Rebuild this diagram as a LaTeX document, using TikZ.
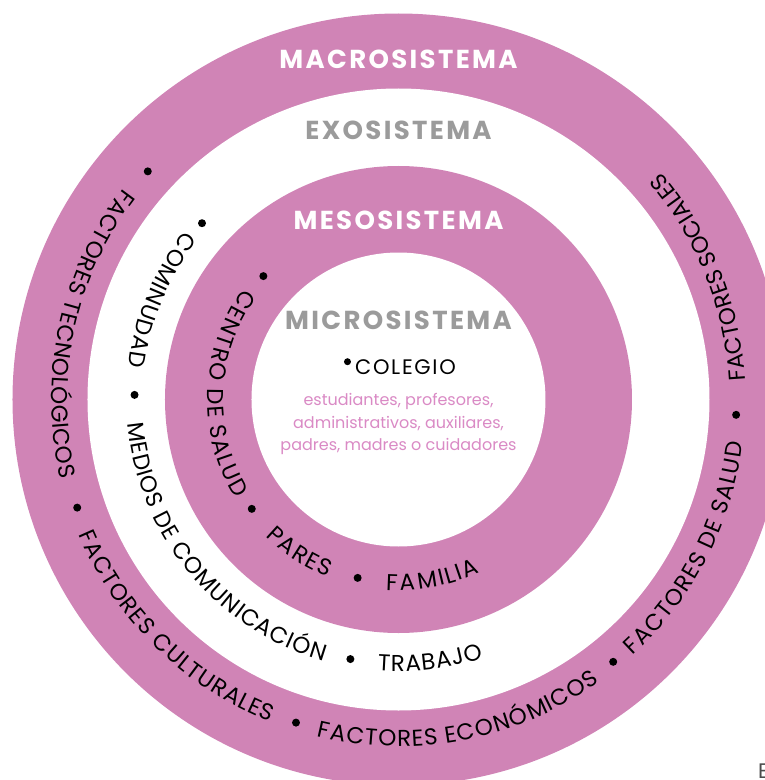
\documentclass[tikz,border=0pt]{standalone}
\usepackage{fontspec}
\setmainfont{Poppins}
\usetikzlibrary{positioning, decorations.text}
\definecolor{ringpink}{RGB}{208,132,182}
\definecolor{titlegray}{RGB}{155,155,155}
\definecolor{memberpink}{RGB}{218,138,197}
\providecommand{\sistemafont}{\fontsize{26}{28}\selectfont\bfseries\addfontfeatures{LetterSpace=9}}
\providecommand{\ringfont}{\fontsize{23}{25}\selectfont}
\providecommand{\colegiofont}{\fontsize{21}{23}\selectfont\addfontfeatures{LetterSpace=8}}
\providecommand{\memberfont}{\fontsize{16}{18}\selectfont}

\begin{document}
\begin{tikzpicture}[x=1pt, y=1pt, node distance=4pt,
    ring/.style={fill=ringpink},
    hole/.style={fill=white},
    dot/.style={circle, fill=black, inner sep=0pt, minimum size=8pt},
    sistema/.style={font=\sistemafont, anchor=base},
    member/.style={font=\memberfont, text=memberpink, anchor=base},
    ring text/.style={decorate, decoration={text effects along path, text={#1},
        text effects/.cd, text along path, fit text to path,
        character widths={font=\ringfont}, characters={font=\ringfont, text=black}}}]
    \useasboundingbox (-398.5,-380.5) rectangle (366.5,399.5);
    \clip (-398.5,-380.5) rectangle (366.5,399.5);
    \coordinate (centre) at (0,0);

    % the four circles
    \fill[ring] (centre) circle[radius=386];
    \fill[hole] (centre) circle[radius=311];
    \fill[ring] (centre) circle[radius=233.5];
    \fill[hole] (centre) circle[radius=147];

    \node[sistema, text=white] (macro title) at (0,330.5) {MACROSISTEMA};
    \node[sistema, text=titlegray] (exo title) at (0,259.5) {EXOSISTEMA};
    \node[sistema, text=white] (meso title) at (0,170.5) {MESOSISTEMA};
    \node[sistema, text=titlegray] (micro title) at (0,70) {MICROSISTEMA};

    \node[anchor=base, font=\colegiofont] (colegio) at (7,25.5) {COLEGIO};
    \node[dot, minimum size=7pt] (colegio dot) at (-51,37.8) {};
    \node[member] (members 1) at (0,-5.5) {estudiantes, profesores,};
    \node[member] (members 2) at (0,-28.8) {administrativos, auxiliares,};
    \node[member] (members 3) at (0,-51.2) {padres, madres o cuidadores};

    % macrosistema
    \node[dot] (macro dot 1) at (137.7:339) {};
    \node[dot] (macro dot 2) at (198.6:339) {};
    \node[dot] (macro dot 3) at (252.4:339) {};
    \node[dot] (macro dot 4) at (309.3:339) {};
    \node[dot] (macro dot 5) at (357.4:338) {};
    \path[ring text=FACTORES TECNOLÓGICOS] (142.5:347) arc[start angle=142.5, end angle=193.3, radius=347];
    \path[ring text=FACTORES CULTURALES] (202.9:347) arc[start angle=202.9, end angle=248.3, radius=347];
    \path[ring text=FACTORES ECONÓMICOS] (256.4:347) arc[start angle=256.4, end angle=305.5, radius=347];
    \path[ring text=FACTORES DE SALUD] (312.5:347) arc[start angle=312.5, end angle=352.9, radius=347];
    \path[ring text=FACTORES SOCIALES] (3.1:347) arc[start angle=3.1, end angle=41, radius=347];

    % exosistema
    \node[dot] (exo dot 1) at (138.1:264) {};
    \node[dot] (exo dot 2) at (179:264) {};
    \node[dot] (exo dot 3) at (259.5:264) {};
    \path[ring text=COMINUDAD] (141.7:272) arc[start angle=141.7, end angle=173.1, radius=272];
    \path[ring text=MEDIOS DE COMUNICACIÓN] (185:272) arc[start angle=185, end angle=254, radius=272];
    \path[ring text=TRABAJO] (265.6:272) arc[start angle=265.6, end angle=288.2, radius=272];

    % mesosistema
    \node[dot] (meso dot 1) at (137.6:183) {};
    \node[dot] (meso dot 2) at (216.7:183) {};
    \node[dot] (meso dot 3) at (257.1:183) {};
    \path[ring text=CENTRO DE SALUD] (144.4:191) arc[start angle=144.4, end angle=211.2, radius=191];
    \path[ring text=PARES] (225.7:191) arc[start angle=225.7, end angle=248.3, radius=191];
    \path[ring text=FAMILIA] (266.2:191) arc[start angle=266.2, end angle=295.1, radius=191];

    \node[anchor=base west, inner sep=0pt, font=\colegiofont, text=black!70] (edge letter) at (359.5,-378.5) {E};
\end{tikzpicture}
\end{document}
